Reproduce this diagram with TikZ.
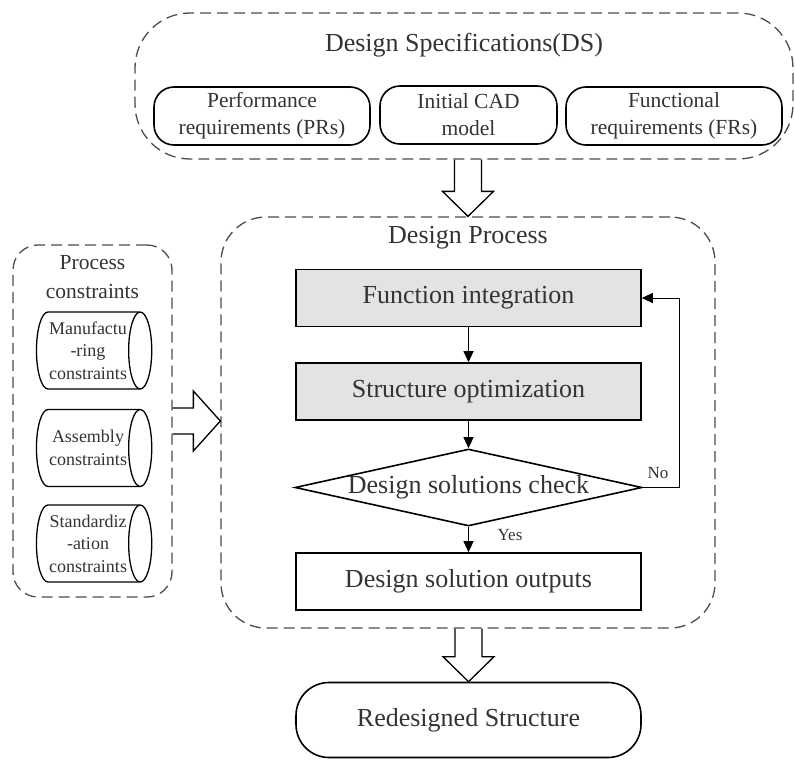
\documentclass[tikz,border=0pt]{standalone}
\usepackage{fontspec}
\setmainfont{Liberation Serif}
\usetikzlibrary{calc,shapes.geometric,arrows.meta}
\tikzset{
	frame/.style={draw=black!70, line width=1.3pt, dash pattern=on 11pt off 6pt, rounded corners=#1, inner sep=0pt},
	reqbox/.style={draw, line width=1.6pt, rounded corners=20pt, minimum width=216pt, minimum height=58pt, align=center, inner sep=0pt, text=black!80, font=\fontsize{21.5}{27}\selectfont},
	procbox/.style={draw, line width=1.6pt, minimum width=345pt, minimum height=57pt, inner sep=0pt, text=black!80, font=\fontsize{26}{30}\selectfont},
	checkbox/.style={draw, diamond, line width=1.6pt, minimum width=347pt, minimum height=77pt, aspect=4.5, inner sep=0pt, text=black!80, font=\fontsize{26}{30}\selectfont},
	constbox/.style={draw, cylinder, line width=1.3pt, aspect=0.35, minimum width=77pt, minimum height=108pt, inner sep=0pt, text=black!80, font=\fontsize{18}{22.5}\selectfont},
	title/.style={align=center, text=black!80, font=\fontsize{26}{30}\selectfont},
	subtitle/.style={align=center, text=black!80, font=\fontsize{21.5}{29}\selectfont},
	answer/.style={text=black!80, font=\fontsize{17}{20}\selectfont},
	flow/.style={line width=1pt, -{Triangle[length=11pt,width=10pt]}},
	fatline/.style={line width=1.3pt, line join=miter}
}
\newcommand\cyltext[1]{\parbox[c][66pt][c]{80pt}{\centering #1}}
\def\fatdown(#1)(#2){\draw[fatline] let \p1=(#1), \p2=(#2) in (\x1-13.5pt,\y1) -- (\x1-13.5pt,\y2+25pt) -- (\x1-25.5pt,\y2+25pt) -- (\x1,\y2) -- (\x1+25.5pt,\y2+25pt) -- (\x1+13.5pt,\y2+25pt) -- (\x1+13.5pt,\y1);}
\def\fatright(#1)(#2){\draw[fatline] let \p1=(#1), \p2=(#2) in (\x1,\y1+13pt) -- (\x2-27pt,\y1+13pt) -- (\x2-27pt,\y1+30pt) -- (\x2,\y1) -- (\x2-27pt,\y1-30pt) -- (\x2-27pt,\y1-13pt) -- (\x1,\y1-13pt);}

\begin{document}
\begin{tikzpicture}[x=1pt, y=-1pt]
			%%%%% START %%%%%
			\useasboundingbox (0,0) rectangle (795,760);
			
			\node[frame=55pt, minimum width=658pt, minimum height=146pt] (ds) at (464,86) {};
			\node[title] (dstitle) at (464,45) {Design Specifications(DS)};
			\node[reqbox] (pr) at (262,116) {Performance\\requirements (PRs)};
			\node[reqbox, minimum width=177pt] (cad) at (468.5,115) {Initial CAD\\model};
			\node[reqbox] (fr) at (674,116) {Functional\\requirements (FRs)};
			
			\node[frame=25pt, minimum width=159pt, minimum height=352pt] (pc) at (92.5,421) {};
			\node[subtitle] (pctitle) at (92.5,277) {Process\\constraints};
			\node[constbox] (mc) at (88,350.5) {\cyltext{Manufactu\\-ring\\constraints}};
			\node[constbox] (ac) at (88,448) {\cyltext{Assembly\\constraints}};
			\node[constbox] (sc) at (88,543.5) {\cyltext{Standardiz\\-ation\\constraints}};
			
			\node[frame=45pt, minimum width=494pt, minimum height=411pt] (dp) at (468,422.5) {};
			\node[title] (dptitle) at (468,238) {Design Process};
			\node[procbox, fill=black!11] (fi) at (468.5,298) {Function integration};
			\node[procbox, fill=black!11] (so) at (468.5,391.5) {Structure optimization};
			\node[checkbox] (chk) at (468.5,487.5) {\makebox[0pt]{Design solutions check}};
			\node[procbox] (out) at (468.5,581.5) {Design solution outputs};
			
			\node[procbox, rounded corners=33pt, minimum height=75pt] (rs) at (468.5,720) {Redesigned Structure};
			
			\draw[flow] (fi) -- (so);
			\draw[flow] (so) -- (chk);
			\draw[flow] (chk) -- (out);
			\draw[flow] (chk.east) -- ++(37,0) |- (fi.east);
			\node[answer] (no) at (658,473) {No};
			\node[answer] (yes) at (510,535) {Yes};
			
			\fatdown(ds.south -| dp.north)(dp.north)
			\fatright(pc.east)(pc.east -| dp.west)
			\fatdown(dp.south -| rs.north)(rs.north)
			
			%%%%% END %%%%%
\end{tikzpicture}
\end{document}
